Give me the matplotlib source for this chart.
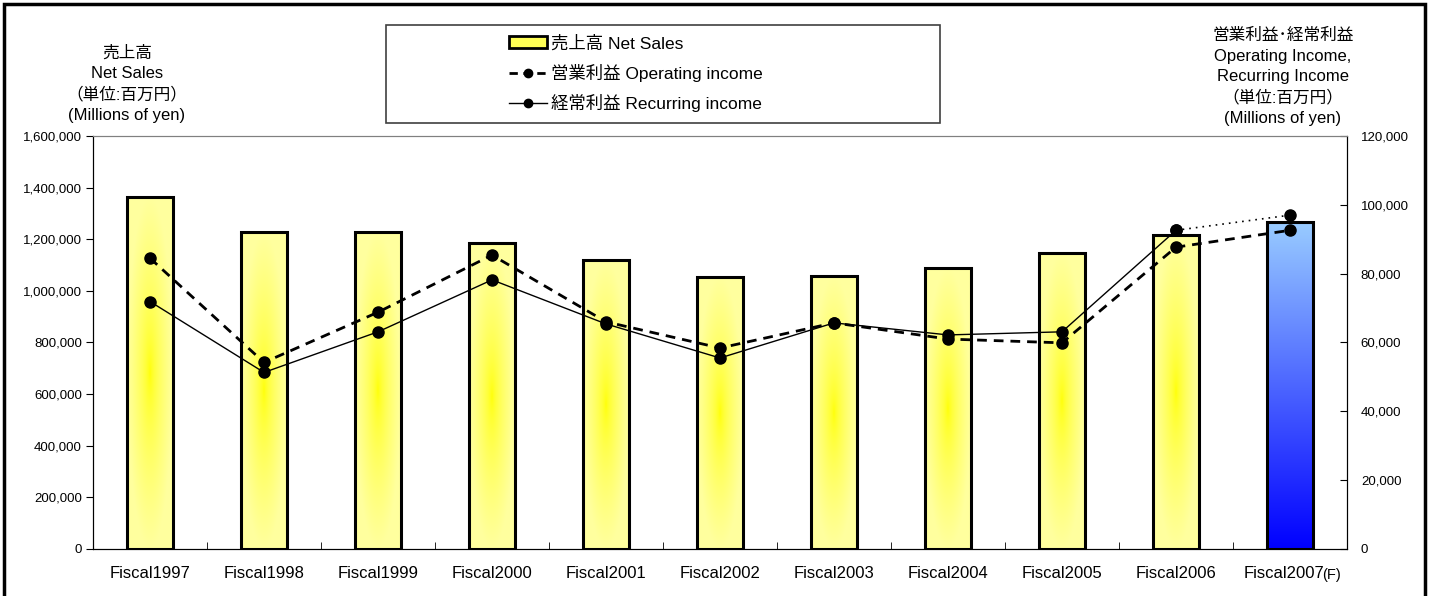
import numpy as np
import matplotlib.pyplot as plt
import matplotlib.transforms as mtransforms
from matplotlib.patches import Rectangle
from matplotlib.lines import Line2D
from matplotlib.ticker import FuncFormatter, MultipleLocator

plt.rcParams['font.family'] = ['Liberation Sans', 'Noto Sans CJK JP', 'DejaVu Sans']

years = ['Fiscal1997', 'Fiscal1998', 'Fiscal1999', 'Fiscal2000', 'Fiscal2001', 'Fiscal2002',
         'Fiscal2003', 'Fiscal2004', 'Fiscal2005', 'Fiscal2006', 'Fiscal2007']
net_sales = [1364000, 1228000, 1230000, 1185000, 1120000, 1054000,
             1057000, 1088000, 1147000, 1217000, 1267000]
operating = [84500, 54200, 68800, 85400, 66000, 58400, 65700, 61000, 59900, 87700, 92600]
recurring = [71900, 51300, 63100, 78200, 65400, 55500, 65700, 62200, 63100, 92600, 97000]
forecast_idx = 10  # last year is a forecast

fig = plt.figure(figsize=(14.29, 5.96), dpi=100)
ax = fig.add_axes([0.0651, 0.0789, 0.8775, 0.6929])
ax2 = ax.twinx()

x = np.arange(len(years))
bw = 0.4
bars = ax.bar(x, net_sales, width=bw, facecolor='none', edgecolor='black', linewidth=2.2, zorder=3)

# gradient fills clipped to each bar
gy, gx = np.mgrid[-1:1:200j, -1:1:60j]
r = np.clip(np.sqrt(gx ** 2 + gy ** 2), 0, 1) ** 0.6
yellow = np.dstack([np.ones_like(r), np.ones_like(r), 0.62 * r])
t = np.linspace(0, 1, 200)[:, None] * np.ones((1, 10))
blue = np.dstack([0.6 * t, 0.8 * t, np.ones_like(t)])  # row 0 = bottom
for i, b in enumerate(bars):
    img = blue if i == forecast_idx else yellow
    im = ax.imshow(img, extent=[x[i] - bw / 2, x[i] + bw / 2, 0, net_sales[i]],
                   origin='lower', aspect='auto', zorder=2, interpolation='bilinear')
    im.set_clip_path(b)

ax.set_xlim(-0.5, len(years) - 0.5)
ax.set_ylim(0, 1600000)
ax.yaxis.set_major_locator(MultipleLocator(200000))
ax.yaxis.set_major_formatter(FuncFormatter(lambda v, p: f'{v:,.0f}'))
ax.tick_params(axis='y', direction='out', length=5, labelsize=9.5, pad=3)
ax.set_xticks(x)
ax.set_xticklabels(years, fontsize=12)
ax.tick_params(axis='x', length=0, pad=12)
ax.set_xticks(np.arange(0.5, len(years) - 1, 1), minor=True)
ax.tick_params(axis='x', which='minor', direction='in', length=5)

# shift the forecast year label left to leave room for "(F)"
lbl = ax.get_xticklabels()[forecast_idx]
lbl.set_transform(lbl.get_transform() + mtransforms.ScaledTranslation(-0.06, 0, fig.dpi_scale_trans))
ax.text(forecast_idx + 0.28, -0.047, '(F)', transform=ax.get_xaxis_transform(),
        fontsize=10.5, va='top', ha='left')

# lines on right axis
ax2.plot(x, operating, linestyle=(0, (3.5, 2.5)), color='black', linewidth=2,
         marker='o', markersize=8, zorder=4)
ax2.plot(x[:forecast_idx], recurring[:forecast_idx], color='black', linewidth=1,
         marker='o', markersize=8, zorder=4)
ax2.plot(x[forecast_idx - 1:], recurring[forecast_idx - 1:], color='black', linewidth=1.2,
         linestyle=(0, (1, 3)), marker='o', markersize=8, zorder=4)
ax2.set_ylim(0, 120000)
ax2.yaxis.set_major_locator(MultipleLocator(20000))
ax2.yaxis.set_major_formatter(FuncFormatter(lambda v, p: f'{v:,.0f}'))
ax2.tick_params(axis='y', direction='in', length=5, labelsize=9.5, pad=10)

for a in (ax, ax2):
    a.spines['top'].set_color('#808080')
    a.spines['left'].set_color('black')
    a.spines['right'].set_color('black')
    a.spines['bottom'].set_color('black')

# axis headers
fig.text(127 / 1429, 1 - 45 / 596, '売上高\nNet Sales\n（単位:百万円）\n(Millions of yen)',
         ha='center', va='top', fontsize=12, linespacing=1.45)
fig.text(1283 / 1429, 1 - 28 / 596,
         '営業利益･経常利益\nOperating Income,\nRecurring Income\n（単位:百万円）\n(Millions of yen)',
         ha='center', va='top', fontsize=12, linespacing=1.45)

# legend with box
fig.patches.append(Rectangle((386 / 1429, 1 - 123 / 596), 554 / 1429, 98 / 596,
                             transform=fig.transFigure, fill=False, edgecolor='#404040',
                             linewidth=1.2))
handles = [
    Rectangle((0, 0), 1, 1, facecolor='#FFFF55', edgecolor='black', linewidth=2),
    Line2D([], [], color='black', linestyle=(0, (3, 2)), linewidth=2, marker='o', markersize=6),
    Line2D([], [], color='black', linewidth=1, marker='o', markersize=6),
]
labels = ['売上高 Net Sales', '営業利益 Operating income', '経常利益 Recurring income']
fig.legend(handles, labels, loc='upper left', bbox_to_anchor=(497 / 1429, 1 - 23 / 596),
           frameon=False, fontsize=12.5, handlelength=2.2, handletextpad=0.2,
           labelspacing=0.72, borderpad=0.2)

# outer border (bottom edge falls outside the image)
fig.patches.append(Rectangle((0.003, -0.02), 0.994, 1.014, transform=fig.transFigure,
                             fill=False, edgecolor='black', linewidth=2.5))

fig.savefig('out.png', dpi=100)
